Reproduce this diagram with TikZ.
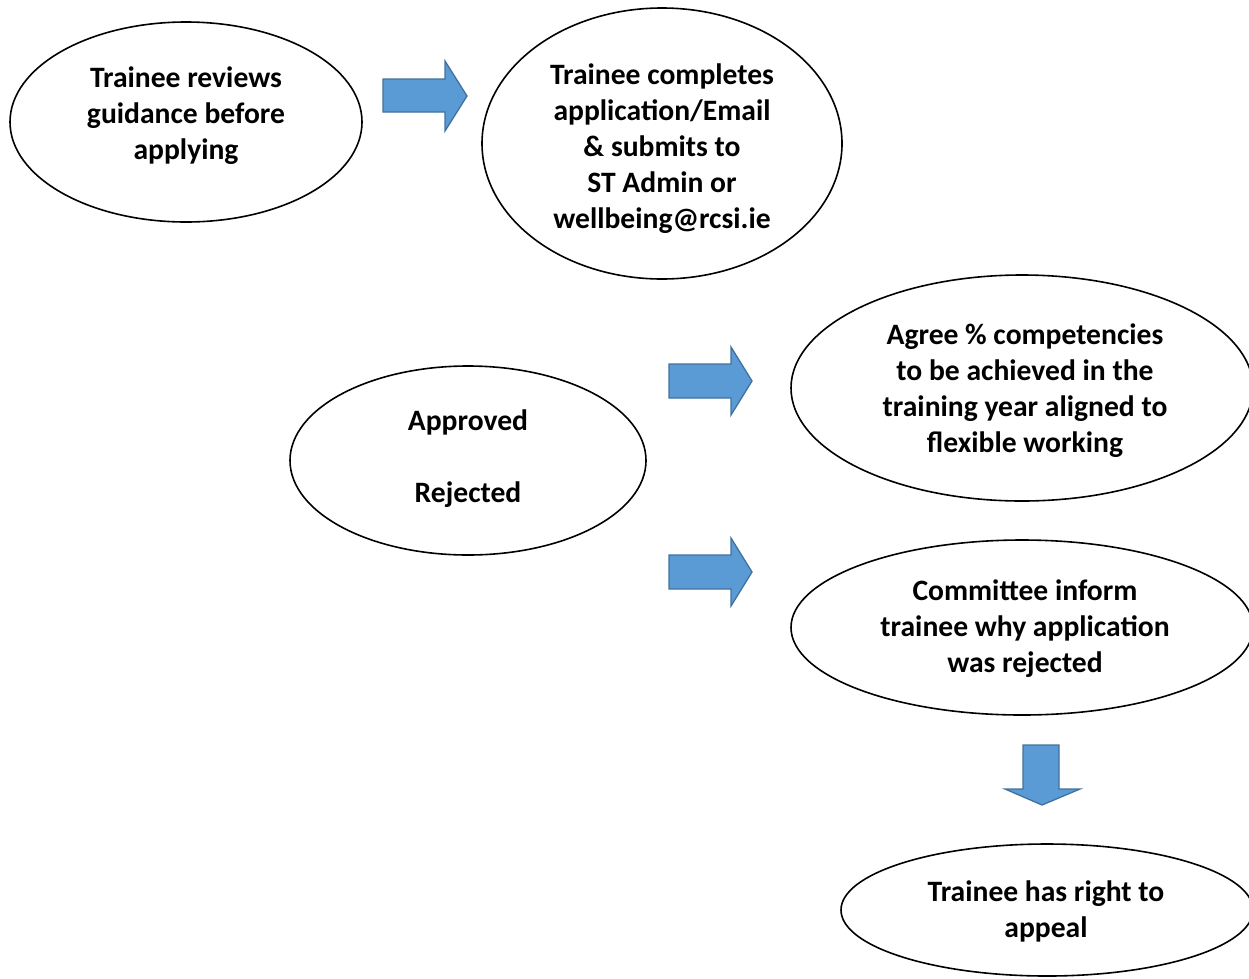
\documentclass[tikz,border=0pt]{standalone}
\usepackage{fontspec}
\setmainfont{Carlito}
\usetikzlibrary{shapes.geometric}
\definecolor{arrfill}{HTML}{5B9BD5}
\definecolor{arrline}{HTML}{41719C}
\tikzset{
  oval/.style={draw=black, line width=1.6pt, ellipse, inner sep=0pt},
  label/.style={align=center, font=\fontsize{29.6}{36}\selectfont\bfseries, inner sep=0pt},
  blockarrow/.style={fill=arrfill, draw=arrline, line width=1.3pt, line join=miter}
}
\begin{document}
\begin{tikzpicture}[x=1pt,y=-1pt]
\useasboundingbox (0,0) rectangle (1249,978);
\clip (0,0) rectangle (1249,978);
% ellipses
\node[oval, minimum width=352pt, minimum height=200pt] (e1) at (186,122) {};
\node[oval, minimum width=360pt, minimum height=271pt] (e2) at (662,143.5) {};
\node[oval, minimum width=356pt, minimum height=189pt] (e3) at (468,460.5) {};
\node[oval, minimum width=462pt, minimum height=226pt] (e4) at (1022,388) {};
\node[oval, minimum width=462pt, minimum height=175pt] (e5) at (1022,627.5) {};
\node[oval, minimum width=412pt, minimum height=132pt] (e6) at (1047,910) {};
% texts
\node[label] (t1) at (186,116) {Trainee reviews\\guidance before\\applying};
\node[label] (t2) at (662,148.5) {Trainee completes\\application/Email\\\& submits to\\ST Admin or\\wellbeing@rcsi.ie};
\node[label] (t3) at (468,459) {Approved\\[36pt]Rejected};
\node[label] (t4) at (1025,390.5) {Agree \% competencies\\to be achieved in the\\training year aligned to\\flexible working};
\node[label] (t5) at (1025,629) {Committee inform\\trainee why application\\was rejected};
\node[label] (t6) at (1046,911.5) {Trainee has right to\\appeal};
% block arrows
\draw[blockarrow] (383,79) -- (445,79) -- (445,61) -- (467,96) -- (445,131) -- (445,112) -- (383,112) -- cycle;
\draw[blockarrow] (669,364) -- (731,364) -- (731,347) -- (752,381) -- (731,415) -- (731,398) -- (669,398) -- cycle;
\draw[blockarrow] (669,555) -- (731,555) -- (731,538) -- (752,572) -- (731,606) -- (731,589) -- (669,589) -- cycle;
\draw[blockarrow] (1023,745) -- (1059,745) -- (1059,789) -- (1080,789) -- (1042,805) -- (1005,789) -- (1023,789) -- cycle;
\end{tikzpicture}
\end{document}
